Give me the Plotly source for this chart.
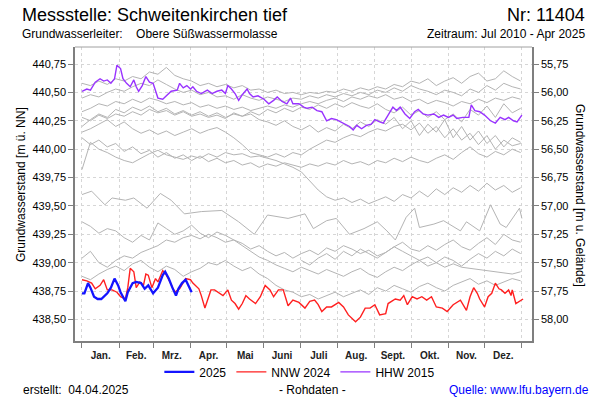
import plotly.graph_objects as go

# ---------------- data ----------------
month_labels = ["Jan.", "Feb.", "Mrz.", "Apr.", "Mai", "Juni", "Juli", "Aug.", "Sept.", "Okt.", "Nov.", "Dez."]
month_starts = [0, 31, 59, 90, 120, 151, 181, 212, 243, 273, 304, 334, 365]
y_ticks = [438.50, 438.75, 439.00, 439.25, 439.50, 439.75, 440.00, 440.25, 440.50, 440.75]
ground_level = 496.50  # m ü. NN  (depth = ground_level - level)

# 2025 (blue)
days_2025 = [0, 2, 5, 7, 10, 13, 16, 18, 21, 24, 27, 30, 32, 36, 38, 42, 45, 49, 52, 55,
             59, 63, 67, 69, 72, 75, 78, 80, 83, 86, 89, 91]
level_2025 = [438.73, 438.73, 438.82, 438.78, 438.70, 438.68, 438.68, 438.70, 438.73, 438.78,
              438.86, 438.80, 438.74, 438.66, 438.74, 438.82, 438.83, 438.82, 438.77, 438.80,
              438.73, 438.78, 438.89, 438.92, 438.86, 438.78, 438.71, 438.77, 438.82, 438.85,
              438.78, 438.74]

# NNW 2024 (red)
days_2024 = [0, 4, 8, 11, 15, 18, 21, 25, 29, 32,
             36, 38, 40, 43, 45, 48, 51, 53, 55, 58,
             61, 63, 67, 70, 73, 77, 81, 86, 90, 92,
             97, 99, 102, 104, 107, 110, 114, 117, 121, 124,
             127, 130, 133, 136, 139, 144, 148, 152, 156, 159,
             163, 167, 171, 175, 180, 185, 189, 193, 196, 199,
             203, 207, 213, 217, 221, 227, 231, 235, 239, 243,
             247, 252, 254, 260, 264, 267, 270, 274, 278, 282,
             286, 290, 294, 299, 303, 308, 314, 319, 322, 325,
             328, 330, 334, 337, 340, 343, 346, 348, 351, 354,
             356, 357, 360, 364, 366]
level_2024 = [438.85, 438.84, 438.82, 438.77, 438.80, 438.85, 438.76, 438.76, 438.74, 438.70,
              438.68, 438.78, 438.95, 438.92, 438.78, 438.83, 438.80, 438.90, 438.89, 438.78,
              438.86, 438.83, 438.93, 438.89, 438.83, 438.74, 438.77, 438.86, 438.85, 438.82,
              438.77, 438.71, 438.60, 438.67, 438.76, 438.76, 438.73, 438.71, 438.76, 438.67,
              438.64, 438.59, 438.64, 438.71, 438.68, 438.64, 438.70, 438.80, 438.76, 438.70,
              438.76, 438.76, 438.62, 438.67, 438.65, 438.60, 438.66, 438.67, 438.63, 438.57,
              438.61, 438.61, 438.65, 438.61, 438.54, 438.48, 438.52, 438.60, 438.60, 438.63,
              438.54, 438.55, 438.64, 438.68, 438.67, 438.71, 438.63, 438.70, 438.68, 438.70,
              438.67, 438.70, 438.61, 438.60, 438.57, 438.63, 438.67, 438.58, 438.70, 438.78,
              438.73, 438.68, 438.61, 438.70, 438.73, 438.82, 438.77, 438.76, 438.73, 438.76,
              438.71, 438.76, 438.64, 438.67, 438.68]

# HHW 2015 (purple)
days_2015 = [0, 4, 7, 11, 15, 18, 21, 24, 27, 29,
             32, 34, 37, 40, 43, 45, 47, 50, 53, 56,
             59, 63, 67, 70, 74, 79, 81, 84, 87, 90,
             92, 95, 99, 104, 108, 112, 116, 119, 121, 124,
             127, 130, 133, 137, 139, 142, 146, 151, 155, 159,
             162, 166, 170, 173, 175, 180, 184, 187, 191, 195,
             199, 203, 207, 211, 216, 220, 222, 225, 228, 232,
             236, 240, 243, 247, 250, 254, 258, 261, 264, 268,
             272, 276, 279, 283, 287, 292, 296, 300, 304, 308,
             311, 316, 321, 323, 326, 330, 334, 339, 343, 347,
             351, 354, 358, 361, 365]
level_2015 = [440.51, 440.53, 440.52, 440.59, 440.62, 440.60, 440.61, 440.58, 440.62, 440.74,
              440.71, 440.62, 440.58, 440.55, 440.61, 440.55, 440.51, 440.56, 440.64, 440.59,
              440.58, 440.45, 440.44, 440.47, 440.51, 440.52, 440.58, 440.54, 440.56, 440.53,
              440.55, 440.51, 440.49, 440.52, 440.49, 440.51, 440.52, 440.49, 440.56, 440.53,
              440.49, 440.43, 440.48, 440.53, 440.49, 440.46, 440.47, 440.44, 440.40, 440.43,
              440.46, 440.42, 440.40, 440.45, 440.40, 440.40, 440.37, 440.36, 440.37, 440.34,
              440.33, 440.25, 440.27, 440.26, 440.23, 440.21, 440.20, 440.17, 440.21, 440.18,
              440.21, 440.22, 440.26, 440.24, 440.23, 440.30, 440.37, 440.34, 440.37, 440.31,
              440.27, 440.33, 440.35, 440.31, 440.30, 440.31, 440.28, 440.30, 440.28, 440.30,
              440.27, 440.28, 440.28, 440.39, 440.34, 440.33, 440.30, 440.25, 440.23, 440.28,
              440.26, 440.28, 440.25, 440.24, 440.30]

# other years (grey), weekly values starting 1 Jan
grey_u1 = [440.58, 440.56, 440.60, 440.57, 440.62, 440.60, 440.64, 440.62, 440.68, 440.66,
           440.72, 440.65, 440.62, 440.60, 440.56, 440.58, 440.55, 440.57, 440.54, 440.56,
           440.52, 440.53, 440.50, 440.52, 440.49, 440.50, 440.48, 440.50, 440.49, 440.51,
           440.50, 440.53, 440.51, 440.54, 440.52, 440.55, 440.53, 440.57, 440.55, 440.60,
           440.58, 440.62, 440.56, 440.60, 440.63, 440.58, 440.64, 440.67, 440.60, 440.62,
           440.69, 440.64, 440.60]
grey_u2 = [440.45, 440.48, 440.46, 440.50, 440.53, 440.51, 440.55, 440.58, 440.56, 440.61,
           440.57, 440.53, 440.50, 440.52, 440.48, 440.50, 440.46, 440.47, 440.44, 440.48,
           440.45, 440.43, 440.46, 440.44, 440.42, 440.45, 440.44, 440.47, 440.45, 440.48,
           440.46, 440.49, 440.47, 440.50, 440.48, 440.52, 440.50, 440.54, 440.51, 440.56,
           440.53, 440.51, 440.48, 440.52, 440.50, 440.47, 440.53, 440.50, 440.56, 440.52,
           440.58, 440.55, 440.53]
grey_u3 = [440.33, 440.36, 440.40, 440.38, 440.42, 440.40, 440.44, 440.41, 440.45, 440.43,
           440.40, 440.42, 440.39, 440.41, 440.37, 440.39, 440.36, 440.38, 440.35, 440.37,
           440.34, 440.36, 440.38, 440.36, 440.39, 440.37, 440.40, 440.42, 440.40, 440.43,
           440.45, 440.42, 440.46, 440.44, 440.47, 440.45, 440.48, 440.44, 440.46, 440.42,
           440.44, 440.40, 440.43, 440.41, 440.38, 440.42, 440.40, 440.44, 440.41, 440.45,
           440.43, 440.46, 440.44]
grey_u4 = [440.20, 440.26, 440.31, 440.28, 440.35, 440.32, 440.37, 440.34, 440.38, 440.33,
           440.36, 440.31, 440.34, 440.30, 440.33, 440.29, 440.32, 440.28, 440.31, 440.29,
           440.33, 440.30, 440.35, 440.32, 440.36, 440.33, 440.37, 440.35, 440.39, 440.36,
           440.40, 440.37, 440.41, 440.38, 440.36, 440.40, 440.35, 440.32, 440.37, 440.30,
           440.34, 440.28, 440.33, 440.26, 440.31, 440.24, 440.35, 440.30, 440.38, 440.28,
           440.40, 440.32, 440.36]
grey_u5 = [440.28, 440.25, 440.30, 440.27, 440.31, 440.29, 440.33, 440.30, 440.35, 440.32,
           440.34, 440.30, 440.33, 440.29, 440.31, 440.28, 440.30, 440.27, 440.32, 440.29,
           440.31, 440.26, 440.24, 440.21, 440.25, 440.20, 440.17, 440.21, 440.15, 440.19,
           440.16, 440.22, 440.18, 440.24, 440.20, 440.26, 440.22, 440.28, 440.18, 440.25,
           440.12, 440.22, 440.15, 440.26, 440.10, 440.20, 440.08, 440.16, 440.05, 440.12,
           440.02, 440.10, 440.06]
grey_u6 = [440.15, 440.18, 440.22, 440.26, 440.20, 440.24, 440.18, 440.14, 440.17, 440.13,
           440.16, 440.12, 440.15, 440.18, 440.14, 440.17, 440.19, 440.15, 440.10, 440.04,
           439.97, 439.95, 439.93, 439.96, 439.93, 439.97, 439.95, 440.00, 440.04, 440.08,
           440.06, 440.10, 440.13, 440.11, 440.15, 440.18, 440.16, 440.20, 440.22, 440.17,
           440.23, 440.14, 440.20, 440.10, 440.18, 440.08, 440.14, 440.04, 440.12, 440.00,
           440.08, 440.03, 440.05]
grey_u7 = [439.82, 440.06, 440.00, 439.97, 439.93, 439.90, 439.88, 439.92, 439.96, 439.99,
           439.95, 439.93, 439.91, 439.94, 439.92, 439.96, 439.93, 439.97, 439.95, 439.96,
           439.93, 439.94, 439.92, 439.90, 439.87, 439.84, 439.80, 439.72, 439.64, 439.58,
           439.55, 439.57, 439.53, 439.56, 439.52, 439.55, 439.58, 439.54, 439.60, 439.57,
           439.63, 439.58, 439.65, 439.60, 439.66, 439.62, 439.68, 439.63, 439.70, 439.64,
           439.68, 439.62, 439.66]
grey_u8 = [440.10, 440.04, 440.08, 440.02, 440.05, 439.98, 440.02, 439.96, 439.99, 439.93,
           439.97, 439.92, 439.95, 439.90, 439.94, 439.89, 439.92, 439.88, 439.90, 439.86,
           439.88, 439.84, 439.87, 439.85, 439.88, 439.86, 439.84, 439.87, 439.85, 439.88,
           439.86, 439.90, 439.87, 439.89, 439.86, 439.90, 439.88, 439.92, 439.89, 439.93,
           439.90, 439.88, 439.92, 439.95, 439.91, 439.97, 440.02, 439.96, 439.93, 439.98,
           439.95, 440.00, 439.97]
grey_b = [439.36, 439.32, 439.26, 439.30, 439.28, 439.22, 439.18, 439.24, 439.20, 439.35,
          439.30, 439.25, 439.28, 439.33, 439.26, 439.22, 439.27, 439.24, 439.20, 439.17,
          439.12, 439.15, 439.10, 439.06, 439.09, 439.04, 439.08, 439.11, 439.07, 439.13,
          439.10, 439.15, 439.12, 439.08, 439.11, 439.06, 439.09, 439.14, 439.18, 439.12,
          439.10, 439.15, 439.11, 439.16, 439.20, 439.14, 439.11, 439.17, 439.22, 439.16,
          439.25, 439.20, 439.18]
grey_c = [439.04, 439.10, 439.00, 438.96, 439.02, 439.06, 439.04, 439.09, 439.12, 439.15,
          439.20, 439.18, 439.22, 439.24, 439.21, 439.25, 439.22, 439.18, 439.20, 439.15,
          439.10, 439.05, 439.02, 438.98, 438.95, 438.92, 438.96, 438.93, 438.90, 438.94,
          438.91, 438.88, 438.92, 438.95, 438.90, 438.87, 438.92, 438.96, 438.93, 438.98,
          439.02, 438.97, 439.00, 439.05, 439.02, 438.97, 439.03, 439.08, 439.04, 439.10,
          439.06, 439.12, 439.08]
grey_d = [438.88, 438.85, 438.90, 438.94, 438.97, 438.93, 438.99, 439.02, 438.96, 438.92,
          438.97, 438.94, 438.88, 438.92, 438.95, 439.00, 438.98, 439.02, 438.97, 438.93,
          438.96, 438.90, 438.86, 438.80, 438.76, 438.74, 438.70, 438.72, 438.68, 438.71,
          438.74, 438.70, 438.73, 438.76, 438.72, 438.78, 438.75, 438.80, 438.77, 438.74,
          438.79, 438.82, 438.78, 438.75, 438.80, 438.83, 438.86, 438.81, 438.84, 438.80,
          438.83, 438.86, 438.84]
# line with irregular sampling
days_a = [0, 8, 19, 25, 36, 43, 54, 65, 74, 85,
          99, 116, 130, 143, 154, 171, 185, 192, 203, 211,
          222, 234, 245, 253, 260, 269, 276, 280, 292, 300,
          314, 319, 330, 339, 347, 352, 363, 365]
grey_a = [439.60, 439.63, 439.51, 439.57, 439.55, 439.57, 439.48, 439.61, 439.55, 439.43,
          439.45, 439.46, 439.36, 439.25, 439.42, 439.39, 439.43, 439.30, 439.37, 439.39,
          439.25, 439.30, 439.36, 439.28, 439.20, 439.40, 439.48, 439.31, 439.34, 439.37,
          439.28, 439.36, 439.28, 439.51, 439.34, 439.31, 439.48, 439.39]
# 2010 (from July, with a data gap bridged by a straight segment)
days_2010 = [182, 189, 196, 203, 210, 217, 224, 231, 238, 245,
             252, 259, 266, 273, 280, 287, 294, 301, 308, 315,
             357, 364]
level_2010 = [439.02, 438.98, 439.04, 439.08, 439.03, 439.10, 439.06, 439.12, 439.08, 439.04,
              439.09, 439.14, 439.10, 439.06, 439.02, 439.05, 439.00, 438.96, 438.99, 438.96,
              438.90, 438.92]

weekly_greys = [grey_u1, grey_u2, grey_u3, grey_u4, grey_u5, grey_u6, grey_u7, grey_u8,
                grey_b, grey_c, grey_d]

# ---------------- figure ----------------
FONT = "Liberation Sans, Arial, sans-serif"
GREY = "#b4b4b4"
AXIS = "#7f7f7f"
GRID = "#d6d6d6"

fig = go.Figure()
for vals in weekly_greys:
    fig.add_trace(go.Scatter(x=[7 * i for i in range(len(vals))], y=vals, mode="lines",
                             line=dict(color=GREY, width=1), showlegend=False, hoverinfo="skip"))
fig.add_trace(go.Scatter(x=days_a, y=grey_a, mode="lines", line=dict(color=GREY, width=1),
                         showlegend=False, hoverinfo="skip"))
fig.add_trace(go.Scatter(x=days_2010, y=level_2010, mode="lines", line=dict(color=GREY, width=1),
                         showlegend=False, hoverinfo="skip"))

fig.add_trace(go.Scatter(x=days_2015, y=level_2015, mode="lines", name="HHW 2015",
                         line=dict(color="#9933ff", width=1.4), legendrank=3))
fig.add_trace(go.Scatter(x=days_2024, y=level_2024, mode="lines", name="NNW 2024",
                         line=dict(color="#ff2020", width=1.4), legendrank=2))
fig.add_trace(go.Scatter(x=days_2025, y=level_2025, mode="lines", name="2025",
                         line=dict(color="#1414ff", width=2.3), legendrank=1))
# invisible trace to carry the right-hand (depth) axis
fig.add_trace(go.Scatter(x=[100], y=[ground_level - 439.5], yaxis="y2", mode="none",
                         showlegend=False, hoverinfo="skip"))

y_lo, y_hi = 438.31, 440.90
mids = [(month_starts[i] + month_starts[i + 1]) / 2 for i in range(12)]

fig.update_layout(
    width=600, height=400,
    margin=dict(l=75, r=68, t=47, b=59),
    paper_bgcolor="white", plot_bgcolor="white",
    separators=",.",
    font=dict(family=FONT, size=11, color="black"),
    legend=dict(orientation="h", x=0.492, xanchor="center", y=-0.105, yanchor="middle",
                font=dict(size=12), bgcolor="rgba(0,0,0,0)", traceorder="normal",
                itemwidth=30, tracegroupgap=0),
    xaxis=dict(range=[-5.8, 373.4], tickvals=mids, ticktext=month_labels, ticks="",
               showgrid=False, zeroline=False, showline=True, linecolor=AXIS, linewidth=1.5,
               tickfont=dict(size=10, weight="bold", color="#222"), ticklabelstandoff=4,
               minor=dict(tickvals=month_starts, ticks="outside", ticklen=5, tickcolor=AXIS,
                          showgrid=True, gridcolor=GRID, griddash="3px,3px", gridwidth=1)),
    yaxis=dict(range=[y_lo, y_hi], tickvals=y_ticks, tickformat=".2f", ticks="outside",
               ticklen=5, tickcolor=AXIS, showline=True, linecolor=AXIS, linewidth=1.5,
               showgrid=True, gridcolor=GRID, griddash="3px,3px", zeroline=False,
               tickfont=dict(size=11)),
    yaxis2=dict(overlaying="y", side="right", range=[ground_level - y_lo, ground_level - y_hi],
                tickvals=[ground_level - v for v in y_ticks], tickformat=".2f", ticks="outside",
                ticklen=5, tickcolor=AXIS, showline=True, linecolor=AXIS, linewidth=1.5,
                showgrid=False, zeroline=False, tickfont=dict(size=11)),
)

# top frame line
fig.add_shape(type="line", xref="paper", yref="paper", x0=0, x1=1, y0=1, y1=1,
              line=dict(color="#a0a0a0", width=1))


def px(xp):
    return (xp - 75) / 457


def py(yp):
    return (341 - yp) / 294


def note(text, x, y, size, xanchor="left", color="black", angle=0):
    fig.add_annotation(text=text, x=px(x), y=py(y), xref="paper", yref="paper",
                       xanchor=xanchor, yanchor="middle", showarrow=False, textangle=angle,
                       font=dict(family=FONT, size=size, color=color))


note("Messstelle: Schweitenkirchen tief", 20, 15, 18)
note("Nr: 11404", 587, 15, 18, xanchor="right")
note("Grundwasserleiter:\u00a0\u00a0\u00a0 Obere Süßwassermolasse", 20, 34, 12)
note("Zeitraum: Jul 2010 - Apr 2025", 587, 34, 12, xanchor="right")
note("Grundwasserstand [m ü. NN]", 21, 185, 12, xanchor="center", angle=-90)
note("Grundwasserstand [m u. Gelände]", 580, 195, 12, xanchor="center", angle=90)
note("erstellt:\u00a0\u00a004.04.2025", 21, 390, 12)
note("- Rohdaten -", 312, 390, 12, xanchor="center")
note("Quelle: www.lfu.bayern.de", 591, 390, 12, xanchor="right", color="#0000ff")

fig.write_html("out.html", config={"displayModeBar": False},
               post_script="document.body.style.margin='0px';document.body.style.overflow='hidden';")
